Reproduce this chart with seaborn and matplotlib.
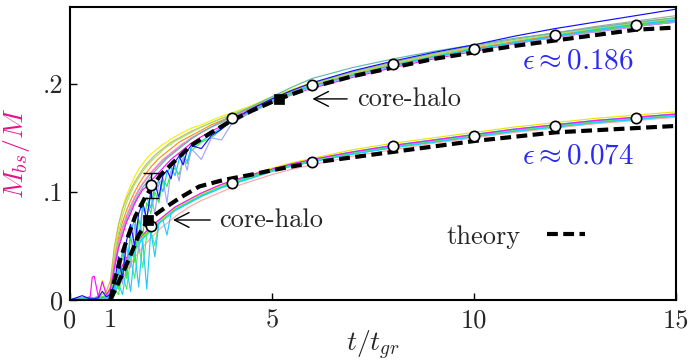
import matplotlib
matplotlib.use("Agg")
import matplotlib.pyplot as plt
import numpy as np
import pandas as pd
import seaborn as sns

# ---------------- data ----------------
T = [0, 0.3, 0.5, 0.55, 0.6, 0.7, 0.8, 0.9,
     1.0, 1.1, 1.2, 1.3, 1.4, 1.5, 1.6, 1.7, 1.8, 1.9, 2.0, 2.1, 2.2, 2.3, 2.4, 2.5, 2.6, 2.7, 2.8, 2.9, 3.0,
     3.25, 3.5, 3.75, 4.0, 4.5, 5.0, 5.5, 6.0,
     7, 8, 9, 10, 11, 12, 13, 14, 15]

# upper bundle (eps ~ 0.186)
U_YELLOW = [0, 0, 0.001, 0.001, 0.001, 0.002, 0.018, 0.006,
            0.012, 0.045, 0.068, 0.085, 0.097, 0.106, 0.114, 0.121, 0.126, 0.131, 0.135, 0.138, 0.141, 0.144, 0.146, 0.149, 0.151, 0.153, 0.155, 0.157, 0.159,
            0.162, 0.166, 0.170, 0.173, 0.180, 0.188, 0.195, 0.201,
            0.211, 0.220, 0.228, 0.234, 0.241, 0.247, 0.252, 0.257, 0.261]
U_OLIVE = [0, 0.001, 0.001, 0.001, 0.002, 0.003, 0.005, 0.008,
           0.018, 0.050, 0.070, 0.084, 0.094, 0.102, 0.109, 0.115, 0.121, 0.126, 0.130, 0.134, 0.137, 0.140, 0.143, 0.146, 0.148, 0.150, 0.152, 0.154, 0.156,
           0.160, 0.164, 0.168, 0.171, 0.178, 0.186, 0.193, 0.199,
           0.209, 0.218, 0.226, 0.232, 0.239, 0.245, 0.250, 0.255, 0.259]
U_ORANGE = [0, 0.001, 0.001, 0.002, 0.002, 0.002, 0.003, 0.004,
            0.012, 0.038, 0.058, 0.072, 0.083, 0.092, 0.100, 0.107, 0.113, 0.118, 0.123, 0.127, 0.131, 0.134, 0.137, 0.140, 0.143, 0.146, 0.148, 0.150, 0.152,
            0.157, 0.162, 0.166, 0.170, 0.178, 0.186, 0.193, 0.200,
            0.210, 0.219, 0.227, 0.233, 0.239, 0.245, 0.251, 0.256, 0.261]
U_MAGENTA = [0, 0.001, 0.003, 0.021, 0.022, 0.003, 0.017, 0.005,
             0.010, 0.030, 0.048, 0.060, 0.072, 0.080, 0.089, 0.096, 0.102, 0.105, 0.110, 0.114, 0.118, 0.122, 0.126, 0.130, 0.133, 0.136, 0.139, 0.142, 0.145,
             0.151, 0.156, 0.161, 0.166, 0.175, 0.183, 0.190, 0.196,
             0.206, 0.215, 0.223, 0.230, 0.237, 0.243, 0.248, 0.253, 0.257]
U_GRAY = [0, 0.001, 0.001, 0.001, 0.001, 0.002, 0.003, 0.004,
          0.008, 0.032, 0.052, 0.066, 0.077, 0.086, 0.094, 0.101, 0.107, 0.112, 0.117, 0.121, 0.125, 0.129, 0.132, 0.135, 0.138, 0.141, 0.144, 0.146, 0.149,
          0.155, 0.160, 0.164, 0.168, 0.177, 0.185, 0.193, 0.200,
          0.211, 0.220, 0.228, 0.235, 0.241, 0.247, 0.253, 0.258, 0.263]
U_TEAL = [0, 0, 0.001, 0.001, 0.001, 0.002, 0.002, 0.003,
          0.006, 0.028, 0.048, 0.062, 0.074, 0.083, 0.091, 0.098, 0.104, 0.109, 0.114, 0.119, 0.123, 0.127, 0.131, 0.134, 0.137, 0.140, 0.143, 0.146, 0.149,
          0.155, 0.160, 0.165, 0.170, 0.179, 0.188, 0.197, 0.205,
          0.215, 0.223, 0.230, 0.236, 0.242, 0.247, 0.252, 0.257, 0.261]
U_GREEN = [0, 0.001, 0.001, 0.001, 0.002, 0.002, 0.003, 0.003,
           0.004, 0.020, 0.010, 0.045, 0.020, 0.060, 0.035, 0.075, 0.060, 0.090, 0.080, 0.100, 0.090, 0.112, 0.105, 0.118, 0.122, 0.116, 0.130, 0.126, 0.138,
           0.146, 0.150, 0.158, 0.165, 0.174, 0.183, 0.191, 0.198,
           0.208, 0.217, 0.225, 0.232, 0.238, 0.244, 0.249, 0.254, 0.258]
U_BLUE = [0, 0.004, 0.001, 0.001, 0.001, 0.002, 0.008, 0.003,
          0.005, 0.015, 0.040, 0.020, 0.055, 0.070, 0.050, 0.080, 0.090, 0.075, 0.100, 0.108, 0.095, 0.115, 0.120, 0.112, 0.128, 0.133, 0.125, 0.138, 0.143,
          0.140, 0.152, 0.158, 0.166, 0.177, 0.186, 0.194, 0.201,
          0.212, 0.221, 0.229, 0.236, 0.244, 0.251, 0.257, 0.263, 0.269]
U_LAVENDER = [0, 0, 0.001, 0.001, 0.001, 0.002, 0.002, 0.003,
              0.004, 0.012, 0.030, 0.015, 0.050, 0.030, 0.070, 0.045, 0.085, 0.075, 0.098, 0.080, 0.108, 0.112, 0.090, 0.120, 0.125, 0.110, 0.132, 0.120, 0.140,
              0.130, 0.150, 0.148, 0.163, 0.174, 0.182, 0.190, 0.197,
              0.207, 0.216, 0.224, 0.231, 0.237, 0.243, 0.248, 0.253, 0.257]
U_CYAN = [0, 0.001, 0.001, 0.001, 0.001, 0.002, 0.002, 0.003,
          0.003, 0.010, 0.025, 0.045, 0.030, 0.062, 0.075, 0.055, 0.088, 0.095, 0.085, 0.105, 0.110, 0.100, 0.118, 0.123, 0.115, 0.130, 0.134, 0.128, 0.141,
          0.147, 0.153, 0.160, 0.166, 0.176, 0.184, 0.192, 0.198,
          0.208, 0.217, 0.225, 0.232, 0.238, 0.244, 0.250, 0.255, 0.259]
U_PINK = [0, 0, 0.001, 0.001, 0.002, 0.002, 0.003, 0.004,
          0.010, 0.035, 0.054, 0.067, 0.078, 0.087, 0.095, 0.102, 0.108, 0.113, 0.118, 0.122, 0.126, 0.130, 0.133, 0.136, 0.139, 0.142, 0.145, 0.147, 0.150,
          0.155, 0.160, 0.165, 0.169, 0.177, 0.185, 0.192, 0.198,
          0.208, 0.217, 0.225, 0.232, 0.238, 0.244, 0.249, 0.254, 0.258]
U_LIGHTGREEN = [0, 0, 0.001, 0.001, 0.001, 0.002, 0.003, 0.004,
                0.009, 0.040, 0.062, 0.078, 0.090, 0.099, 0.107, 0.113, 0.119, 0.124, 0.128, 0.132, 0.135, 0.139, 0.142, 0.144, 0.147, 0.149, 0.151, 0.153, 0.155,
                0.160, 0.164, 0.168, 0.172, 0.179, 0.187, 0.194, 0.200,
                0.210, 0.219, 0.227, 0.234, 0.240, 0.246, 0.251, 0.256, 0.260]

# lower bundle (eps ~ 0.074)
L_CYAN = [0, 0.001, 0.001, 0.001, 0.001, 0.002, 0.002, 0.002,
          0.003, 0.012, 0.021, 0.029, 0.036, 0.042, 0.048, 0.053, 0.058, 0.062, 0.066, 0.069, 0.072, 0.075, 0.078, 0.081, 0.084, 0.086, 0.088, 0.090, 0.092,
          0.097, 0.101, 0.105, 0.108, 0.114, 0.120, 0.125, 0.129,
          0.136, 0.142, 0.147, 0.152, 0.157, 0.161, 0.165, 0.168, 0.171]
L_CYAN_NOISY = [0, 0.001, 0.001, 0.001, 0.001, 0.002, 0.002, 0.002,
                0.002, 0.006, 0.015, 0.005, 0.030, 0.008, 0.045, 0.012, 0.055, 0.010, 0.064, 0.040, 0.071, 0.074, 0.060, 0.080, 0.083, 0.085, 0.087, 0.089, 0.091,
                0.096, 0.100, 0.104, 0.107, 0.113, 0.119, 0.124, 0.128,
                0.135, 0.141, 0.146, 0.151, 0.156, 0.160, 0.164, 0.167, 0.170]
L_MAGENTA = [0, 0.001, 0.002, 0.002, 0.002, 0.003, 0.003, 0.003,
             0.006, 0.015, 0.024, 0.032, 0.039, 0.045, 0.051, 0.056, 0.060, 0.064, 0.068, 0.071, 0.074, 0.077, 0.080, 0.083, 0.086, 0.088, 0.090, 0.092, 0.094,
             0.099, 0.103, 0.107, 0.110, 0.116, 0.121, 0.126, 0.130,
             0.137, 0.143, 0.148, 0.153, 0.158, 0.162, 0.166, 0.169, 0.172]
L_PINK = [0, 0, 0, 0.001, 0.001, 0.001, 0.001, 0.001,
          0.001, 0.006, 0.013, 0.020, 0.027, 0.033, 0.039, 0.044, 0.049, 0.053, 0.057, 0.061, 0.065, 0.068, 0.071, 0.074, 0.077, 0.080, 0.082, 0.085, 0.087,
          0.092, 0.096, 0.100, 0.104, 0.110, 0.116, 0.121, 0.125,
          0.133, 0.139, 0.145, 0.150, 0.155, 0.159, 0.163, 0.166, 0.169]
L_YELLOW = [0, 0, 0.001, 0.001, 0.001, 0.002, 0.002, 0.003,
            0.005, 0.014, 0.023, 0.031, 0.038, 0.044, 0.050, 0.055, 0.059, 0.063, 0.067, 0.070, 0.073, 0.076, 0.079, 0.082, 0.085, 0.087, 0.089, 0.091, 0.093,
            0.098, 0.102, 0.106, 0.110, 0.116, 0.122, 0.127, 0.131,
            0.139, 0.145, 0.150, 0.155, 0.160, 0.164, 0.168, 0.171, 0.174]
L_GREEN = [0, 0.001, 0.001, 0.001, 0.001, 0.002, 0.002, 0.003,
           0.003, 0.010, 0.005, 0.025, 0.010, 0.038, 0.020, 0.050, 0.030, 0.060, 0.064, 0.050, 0.071, 0.074, 0.077, 0.080, 0.083, 0.085, 0.087, 0.089, 0.091,
           0.096, 0.100, 0.104, 0.108, 0.114, 0.120, 0.125, 0.129,
           0.136, 0.142, 0.147, 0.152, 0.157, 0.161, 0.165, 0.168, 0.171]

# theory curves
TH_UP_T = [1.0, 1.1, 1.24, 1.41, 1.61, 1.86, 2.0, 2.25, 2.55, 3.0, 3.5, 4.0, 4.5, 5.17, 6, 7, 8, 9, 10, 11, 12, 13, 14, 15]
TH_UP_M = [0, 0.018, 0.037, 0.056, 0.077, 0.095, 0.103, 0.116, 0.127, 0.143, 0.155, 0.166, 0.175, 0.186, 0.197, 0.207, 0.215, 0.223, 0.229, 0.235, 0.240, 0.245, 0.250, 0.252]
TH_LO_T = [1.0, 1.2, 1.45, 1.7, 1.93, 2.3, 2.7, 3.2, 3.8, 4.5, 5, 6, 7, 8, 9, 10, 11, 12, 13, 14, 15]
TH_LO_M = [0, 0.016, 0.037, 0.060, 0.074, 0.084, 0.094, 0.105, 0.111, 0.116, 0.120, 0.127, 0.132, 0.137, 0.142, 0.147, 0.151, 0.155, 0.157, 0.159, 0.161]

# averaged points (circles)
AVG_T = [2, 4, 6, 8, 10, 12, 14]
AVG_UP = [0.106, 0.168, 0.199, 0.218, 0.232, 0.245, 0.254]
AVG_LO = [0.068, 0.108, 0.128, 0.142, 0.152, 0.161, 0.168]
ERR_T = [2]
ERR_MID = [0.1055]
ERR_HALF = [0.0115]

# core-halo points (squares)
CH_T = [5.17, 1.93]
CH_M = [0.186, 0.074]

X_TICKS = [0, 1, 5, 10, 15]
X_TICK_LABELS = ["0", "1", "5", "10", "15"]
Y_TICKS = [0, 0.1, 0.2]
Y_TICK_LABELS = ["0", ".1", ".2"]

UPPER = {
    "yellow": (U_YELLOW, "#f5ee10"),
    "olive": (U_OLIVE, "#c9bb55"),
    "orange": (U_ORANGE, "#ff8c1a"),
    "gray": (U_GRAY, "#a8a8a8"),
    "lightgreen": (U_LIGHTGREEN, "#9be86a"),
    "pink": (U_PINK, "#ff80c8"),
    "teal": (U_TEAL, "#62b8b0"),
    "magenta": (U_MAGENTA, "#ff10ff"),
    "green": (U_GREEN, "#33ee33"),
    "lavender": (U_LAVENDER, "#a4a4ff"),
    "cyan": (U_CYAN, "#10ccf0"),
    "blue": (U_BLUE, "#1010ff"),
}
LOWER = {
    "l_pink": (L_PINK, "#ffa8a8"),
    "l_yellow": (L_YELLOW, "#e8e800"),
    "l_green": (L_GREEN, "#55ee55"),
    "l_magenta": (L_MAGENTA, "#ff10ff"),
    "l_cyan_noisy": (L_CYAN_NOISY, "#22ccff"),
}

# ---------------- style ----------------
sns.set_style("ticks")
plt.rcParams["font.family"] = "serif"
plt.rcParams["font.serif"] = ["cmr10"]
plt.rcParams["mathtext.fontset"] = "cm"
plt.rcParams["axes.unicode_minus"] = False

FS = 19

fig = plt.figure(figsize=(6.91, 3.63), dpi=100)
ax = fig.add_axes([0.1013, 0.1736, 0.8770, 0.8071])

def long_df(groups):
    rows = []
    for name, (vals, _) in groups.items():
        for t, m in zip(T, vals):
            rows.append((name, t, m))
    return pd.DataFrame(rows, columns=["run", "t", "m"])

df_lo = long_df(LOWER)
df_up = long_df(UPPER)

# thick cyan in lower bundle
sns.lineplot(x=T, y=L_CYAN, color="#00e6f2", lw=2.6, ax=ax, estimator=None, sort=False, zorder=2)
sns.lineplot(data=df_lo, x="t", y="m", hue="run", palette={k: v[1] for k, v in LOWER.items()},
             estimator=None, sort=False, lw=0.85, legend=False, ax=ax, zorder=2)
sns.lineplot(data=df_up, x="t", y="m", hue="run", palette={k: v[1] for k, v in UPPER.items()},
             estimator=None, sort=False, lw=0.85, legend=False, ax=ax, zorder=2)

dash = (0, (2.6, 1.3))
sns.lineplot(x=TH_UP_T, y=TH_UP_M, color="black", lw=3.0, linestyle=dash, ax=ax,
             estimator=None, sort=False, zorder=3, dash_capstyle="butt")
theory_line = ax.lines[-1]
sns.lineplot(x=TH_LO_T, y=TH_LO_M, color="black", lw=3.0, linestyle=dash, ax=ax,
             estimator=None, sort=False, zorder=3, dash_capstyle="butt")

ax.errorbar(ERR_T, ERR_MID, yerr=ERR_HALF, fmt="none", ecolor="black", elinewidth=1.0,
            capsize=5.5, capthick=1.0, zorder=4)
sns.scatterplot(x=AVG_T, y=AVG_UP, marker="o", s=55, color="white", edgecolor="black",
                linewidth=1.2, ax=ax, zorder=6)
sns.scatterplot(x=AVG_T, y=AVG_LO, marker="o", s=55, color="white", edgecolor="black",
                linewidth=1.2, ax=ax, zorder=6)
sns.scatterplot(x=CH_T, y=CH_M, marker="s", s=60, color="black", edgecolor="black",
                linewidth=0.5, ax=ax, zorder=7)

# annotations
ARROW_UP = ((6.0, 0.186), (6.86, 0.186))
ARROW_LO = ((2.55, 0.074), (3.47, 0.074))
for head, tail in (ARROW_UP, ARROW_LO):
    ax.annotate("", xy=head, xytext=tail,
                arrowprops=dict(arrowstyle="->,head_length=0.55,head_width=0.28", lw=1.0,
                                color="black", shrinkA=0, shrinkB=0, mutation_scale=FS))
ax.text(7.1, 0.186, "core-halo", fontsize=FS, va="center", ha="left")
ax.text(3.7, 0.074, "core-halo", fontsize=FS, va="center", ha="left")

ax.text(11.2, 0.221, r"$\epsilon \approx 0.186$", fontsize=21, color="#2a2af0", va="center", ha="left")
ax.text(11.2, 0.133, r"$\epsilon \approx 0.074$", fontsize=21, color="#2a2af0", va="center", ha="left")

ax.legend([theory_line], ["theory"], markerfirst=False, frameon=False, fontsize=FS,
          handlelength=1.45, handletextpad=1.0, loc="center left",
          bbox_to_anchor=(0.59, 0.216), borderpad=0.2)

# axes
ax.set_xlim(0, 15)
ax.set_ylim(0, 0.271)
ax.set_xticks(X_TICKS)
ax.set_xticklabels(X_TICK_LABELS)
ax.set_yticks(Y_TICKS)
ax.set_yticklabels(Y_TICK_LABELS)
ax.tick_params(direction="in", length=5, width=1.0, labelsize=FS, color="black")
ax.tick_params(axis="x", pad=6)
ax.tick_params(axis="y", pad=5)
for s in ax.spines.values():
    s.set_visible(True)
    s.set_linewidth(1.5)
    s.set_color("black")

ax.set_xlabel(r"$t/t_{gr}$", fontsize=FS + 1)
ax.xaxis.set_label_coords(0.5, -0.098)
ax.set_ylabel(r"$M_{bs}/M$", fontsize=FS + 1, color="#e8108c")
ax.yaxis.set_label_coords(-0.062, 0.5)

fig.savefig("out.png", dpi=100)
